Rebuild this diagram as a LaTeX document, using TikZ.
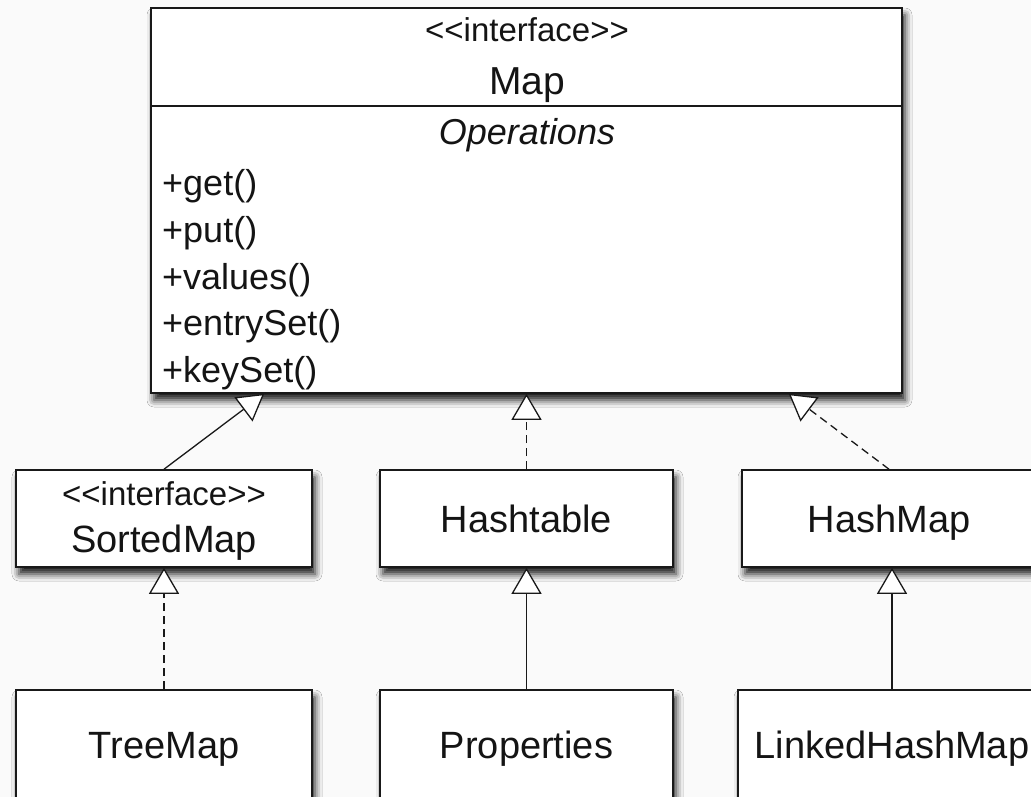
\documentclass[tikz,border=0pt]{standalone}
\usepackage{fontspec}
\setmainfont{Liberation Sans}[Ligatures=TeXOff]
\usetikzlibrary{arrows.meta,positioning,shadows.blur}

\tikzset{
  classbox/.style={draw=black!90,line width=1.6pt,fill=white,inner sep=0pt,
    text=black!92,font=\fontsize{38}{46}\selectfont,text height=27pt,text depth=0pt,
    blur shadow={shadow xshift=3pt,shadow yshift=-7pt,shadow blur radius=7pt,shadow opacity=90}},
  stereo/.style={font=\fontsize{33}{38}\selectfont,text=black!92,anchor=base,inner sep=0pt},
  cname/.style={font=\fontsize{38}{46}\selectfont,text=black!92,anchor=base,inner sep=0pt},
  member/.style={font=\fontsize{36}{44}\selectfont,text=black!92,anchor=base west,inner sep=0pt},
  extends/.style={line width=1.3pt,draw=black!90,
    -{Triangle[length=26pt,width=30pt,fill=white,line width=1.3pt]}},
  realizes/.style={extends,dash pattern=on 8pt off 5pt},
}

\begin{document}
\begin{tikzpicture}[x=1pt,y=-1pt]
\useasboundingbox (0,0) rectangle (1031,797);
\clip (0,0) rectangle (1031,797);
\fill[black!2] (0,0) rectangle (1031,797);

% the interface Map
\node[classbox,minimum width=751pt,minimum height=385pt] (map) at (526.5,200.5) {};
\draw[line width=1.6pt,draw=black!90] ([yshift=-99pt]map.north west) -- ([yshift=-99pt]map.north east);
\node[stereo] (mapst) at (527,42) {<<interface>>};
\node[cname,font=\fontsize{39}{46}\selectfont] (mapname) at (527,95) {Map};
\node[cname,font=\fontsize{36}{44}\selectfont\itshape] (ops) at (527,145) {Operations};
\foreach \m [count=\i] in {get,put,values,entrySet,keySet}
  \node[member] (op\i) at (162,{196+46.6*(\i-1)}) {+\m()};

% middle row
\node[classbox,minimum width=296pt,minimum height=97pt] (sorted) at (164,518.5) {};
\node[stereo] (sortedst) at (164,505) {<<interface>>};
\node[cname] (sortedname) at (164,552) {SortedMap};
\node[classbox,minimum width=293pt,minimum height=97pt] (hashtable) at (526.5,518.5) {Hashtable};
\node[classbox,minimum width=294pt,minimum height=97pt] (hashmap) at (889,518.5) {HashMap};

% bottom row
\node[classbox,minimum width=296pt,minimum height=110pt] (treemap) at (164,745) {TreeMap};
\node[classbox,minimum width=293pt,minimum height=110pt] (properties) at (526.5,745) {Properties};
\node[classbox,minimum width=308pt,minimum height=110pt] (linked) at (892,745) {LinkedHashMap};

% connectors
\coordinate (mapL) at ([xshift=114pt]map.south west);
\coordinate (mapR) at ([xshift=-114pt]map.south east);
\draw[extends] (sorted.north) -- (mapL);
\draw[realizes] (hashtable.north) -- (hashtable.north |- map.south);
\draw[realizes] (hashmap.north) -- (mapR);
\draw[realizes] (treemap.north) -- (sorted.south);
\draw[extends] (properties.north) -- (hashtable.south);
\draw[extends] (linked.north) -- (linked.north |- hashmap.south);
\end{tikzpicture}
\end{document}
